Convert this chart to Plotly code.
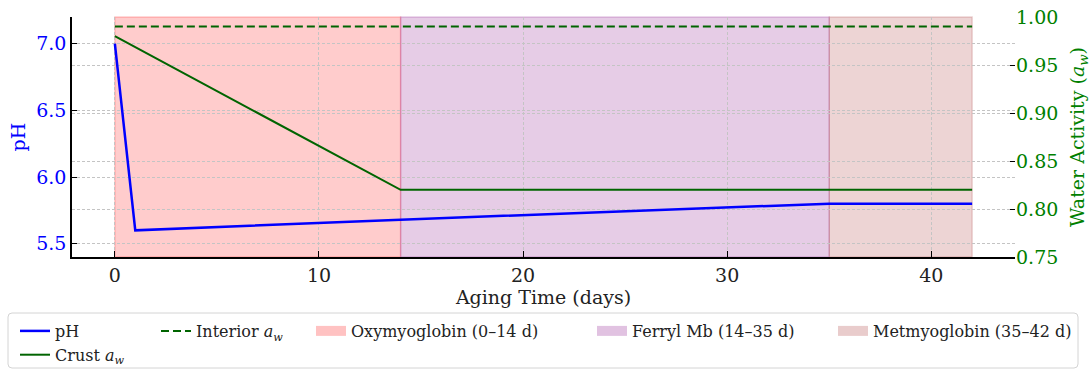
import plotly.graph_objects as go

# ---- data ----
days_ph = [0, 1, 14, 35, 42]
ph_values = [7.0, 5.6, 5.68, 5.8, 5.8]
days_aw = [0, 14, 35, 42]
crust_aw = [0.98, 0.82, 0.82, 0.82]
interior_aw = [0.99, 0.99, 0.99, 0.99]
phase_names = ["Oxymyoglobin (0–14 d)", "Ferryl Mb (14–35 d)", "Metmyoglobin (35–42 d)"]
phase_start = [0, 14, 35]
phase_end = [14, 35, 42]
x_ticks = [0, 10, 20, 30, 40]
ph_ticks = [5.5, 6.0, 6.5, 7.0]
aw_ticks = [0.75, 0.80, 0.85, 0.90, 0.95, 1.00]

# ---- styles ----
FONT = "DejaVu Serif"
BLUE = "#0000ff"
GREEN_LINE = "#006400"
GREEN_TXT = "#008000"
phase_colors = ["rgba(255,0,0,0.2)", "rgba(128,0,128,0.2)", "rgba(165,42,42,0.2)"]
phase_swatch = ["rgba(255,0,0,0.24)", "rgba(128,0,128,0.24)", "rgba(165,42,42,0.24)"]
phase_legends = ["legend3", "legend4", "legend5"]
AW = "<i>a</i><sub><i>w</i></sub>"

PL, PT, PW, PH = 72, 17, 943, 240  # plot area in px


def px_x(px):
    return (px - PL) / PW


def px_y(py):
    return (PT + PH - py) / PH


fig = go.Figure()

fig.add_trace(go.Scatter(x=days_ph, y=ph_values, mode="lines", name="pH",
                         line=dict(color=BLUE, width=2.5), yaxis="y", legend="legend"))
fig.add_trace(go.Scatter(x=days_aw, y=crust_aw, mode="lines", name="Crust " + AW,
                         line=dict(color=GREEN_LINE, width=2), yaxis="y2", legend="legend"))
fig.add_trace(go.Scatter(x=days_aw, y=interior_aw, mode="lines", name="Interior " + AW,
                         line=dict(color=GREEN_LINE, width=2, dash="8px,4px"), yaxis="y2",
                         legend="legend2"))

for name, s, e, c, sw, lg in zip(phase_names, phase_start, phase_end, phase_colors,
                                 phase_swatch, phase_legends):
    fig.add_shape(type="rect", xref="x", yref="paper", x0=s, x1=e, y0=0, y1=1,
                  fillcolor=c, line=dict(color=c, width=1.4), layer="below")
    # legend swatch entry for the phase span
    fig.add_trace(go.Scatter(x=[None], y=[None], mode="lines", name=name,
                             line=dict(color=sw, width=10), legend=lg, hoverinfo="skip"))

# legend frame (rounded rectangle)
x0, x1 = px_x(8), px_x(1078)
y0, y1 = px_y(313), px_y(368)
rx, ry = 4 / PW, 4 / PH
frame = (f"M{x0 + rx},{y0} L{x1 - rx},{y0} Q{x1},{y0} {x1},{y0 - ry} "
         f"L{x1},{y1 + ry} Q{x1},{y1} {x1 - rx},{y1} L{x0 + rx},{y1} "
         f"Q{x0},{y1} {x0},{y1 + ry} L{x0},{y0 - ry} Q{x0},{y0} {x0 + rx},{y0} Z")
fig.add_shape(type="path", xref="paper", yref="paper", path=frame,
              line=dict(color="#d4d4d4", width=1), fillcolor="rgba(0,0,0,0)", layer="above")

grid = dict(showgrid=True, gridcolor="#c4c4c4", gridwidth=1, griddash="3px,2px")

fig.update_layout(
    width=1092, height=369,
    margin=dict(l=PL, r=1092 - PL - PW, t=PT, b=369 - PT - PH, autoexpand=False),
    paper_bgcolor="white", plot_bgcolor="white",
    font=dict(family=FONT, size=16, color="#222"),
    xaxis=dict(range=[-2.1, 44.1], tickvals=x_ticks, ticks="inside", ticklen=6,
               tickcolor="black", showline=True, linecolor="black", linewidth=1.5,
               zeroline=False, tickfont=dict(size=19, color="#222"),
               title=dict(text="Aging Time (days)", font=dict(size=19, color="#222"), standoff=4),
               **grid),
    yaxis=dict(range=[5.4, 7.2], tickvals=ph_ticks, tickformat=".1f", ticks="inside",
               ticklen=5, tickcolor="black", showline=True, linecolor="black", linewidth=1.5,
               zeroline=False, tickfont=dict(size=19, color=BLUE),
               title=dict(text="pH", font=dict(size=19, color=BLUE), standoff=6),
               **grid),
    yaxis2=dict(range=[0.75, 1.0], tickvals=aw_ticks, tickformat=".2f", overlaying="y",
                side="right", ticks="inside", ticklen=5, tickcolor="black", showline=False,
                zeroline=False, tickfont=dict(size=19, color=GREEN_TXT),
                title=dict(text="Water Activity (" + AW + ")", font=dict(size=19, color=GREEN_TXT),
                           standoff=13),
                **grid),
)

leg_common = dict(bgcolor="rgba(0,0,0,0)", borderwidth=0, xanchor="left", yanchor="top",
                  font=dict(family=FONT, size=16, color="#222"), orientation="v",
                  y=px_y(314))
fig.update_layout(
    legend=dict(x=px_x(15), **leg_common),
    legend2=dict(x=px_x(156), **leg_common),
    legend3=dict(x=px_x(311), **leg_common),
    legend4=dict(x=px_x(592), **leg_common),
    legend5=dict(x=px_x(833), **leg_common),
)

fig.write_html("out.html", config={"displayModeBar": False},
               post_script="document.body.style.margin='0px';")
